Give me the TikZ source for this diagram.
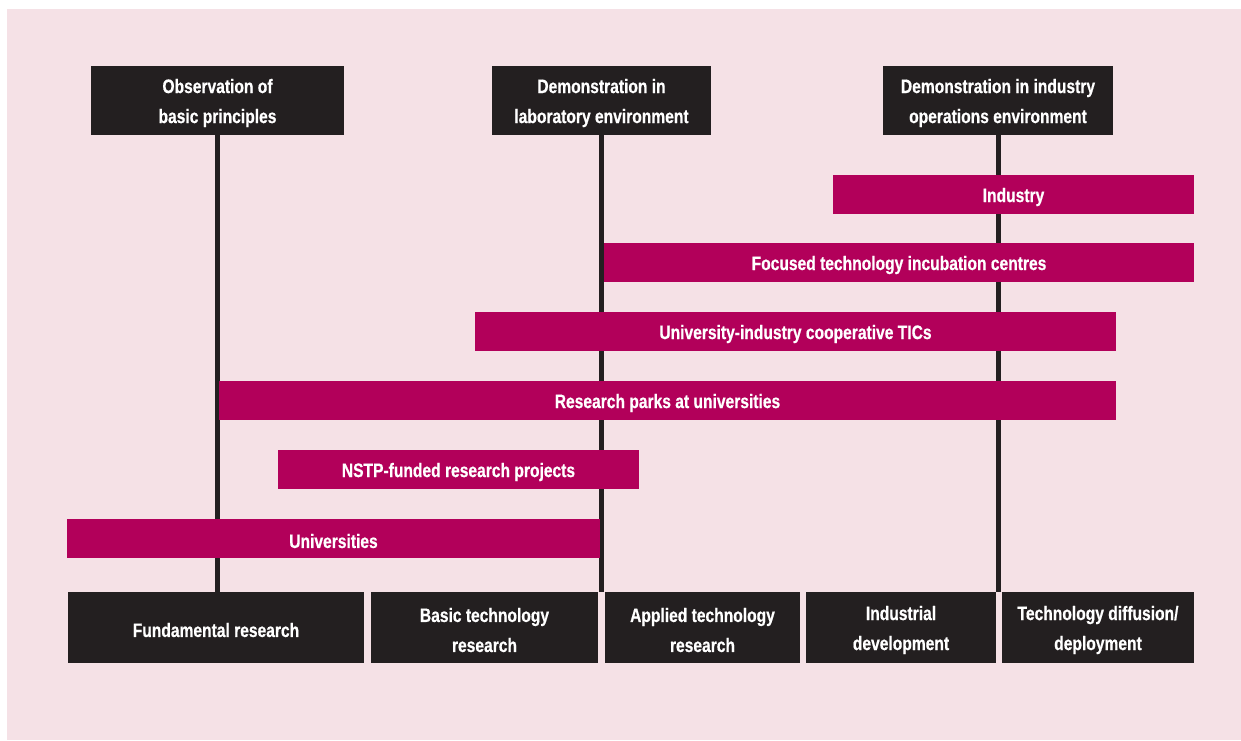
\documentclass[tikz,border=0pt]{standalone}
\usepackage{fontspec}
\setmainfont[FakeStretch=0.8,FakeBold=0.6]{Liberation Sans}
\definecolor{bgpink}{HTML}{F5E1E6}
\definecolor{darkbox}{HTML}{231F20}
\definecolor{magbar}{HTML}{B2005A}
\tikzset{
  boxtext/.style={text=white, inner sep=0pt, align=center, yshift=-2.5pt,
    font=\fontsize{19.5}{30}\selectfont\bfseries},
  box/.style={fill=darkbox, inner sep=0pt, outer sep=0pt, anchor=north west},
  bar/.style={fill=magbar, inner sep=0pt, outer sep=0pt, anchor=north west, minimum height=39pt},
  vline/.style={draw=darkbox, line width=5pt}
}
\begin{document}
\begin{tikzpicture}[x=1pt,y=-1pt]
\useasboundingbox (0,0) rectangle (1241,740);
\fill[bgpink] (7,9) rectangle (1241,740);
% top boxes
\node[box, minimum width=253pt, minimum height=69pt, label={[boxtext]center:Observation of\\basic principles}] (obs) at (91,66) {};
\node[box, minimum width=219pt, minimum height=69pt, label={[boxtext]center:Demonstration in\\laboratory environment}] (lab) at (492,66) {};
\node[box, minimum width=230pt, minimum height=69pt, label={[boxtext]center:Demonstration in industry\\operations environment}] (ind) at (883,66) {};
% bottom boxes
\node[box, minimum width=296pt, minimum height=71pt, label={[boxtext]center:Fundamental research}] (fund) at (68,592) {};
\node[box, minimum width=227pt, minimum height=71pt, label={[boxtext]center:Basic technology\\research}] (basic) at (371,592) {};
\node[box, minimum width=195pt, minimum height=71pt, label={[boxtext]center:Applied technology\\research}] (appl) at (605,592) {};
\node[box, minimum width=190pt, minimum height=71pt, label={[boxtext]center:Industrial\\development}] (indev) at (806,592) {};
\node[box, minimum width=192pt, minimum height=71pt, label={[boxtext]center:Technology diffusion/\\deployment}] (diff) at (1002,592) {};
% vertical lines
\draw[vline] (obs.south) -- (obs.south |- fund.north);
\draw[vline] (lab.south) -- (lab.south |- basic.north);
\draw[vline] (ind.south) -- (ind.south |- diff.north);
% bars
\node[bar, minimum width=361pt, label={[boxtext]center:Industry}] (industry) at (833,175) {};
\node[bar, minimum width=590pt, label={[boxtext]center:Focused technology incubation centres}] (focused) at (604,243) {};
\node[bar, minimum width=641pt, label={[boxtext]center:University-industry cooperative TICs}] (uitic) at (475,312) {};
\node[bar, minimum width=897pt, label={[boxtext]center:Research parks at universities}] (parks) at (219,381) {};
\node[bar, minimum width=361pt, label={[boxtext]center:NSTP-funded research projects}] (nstp) at (278,450) {};
\node[bar, minimum width=533pt, label={[boxtext]center:Universities}] (univ) at (67,519) {};
\end{tikzpicture}
\end{document}
